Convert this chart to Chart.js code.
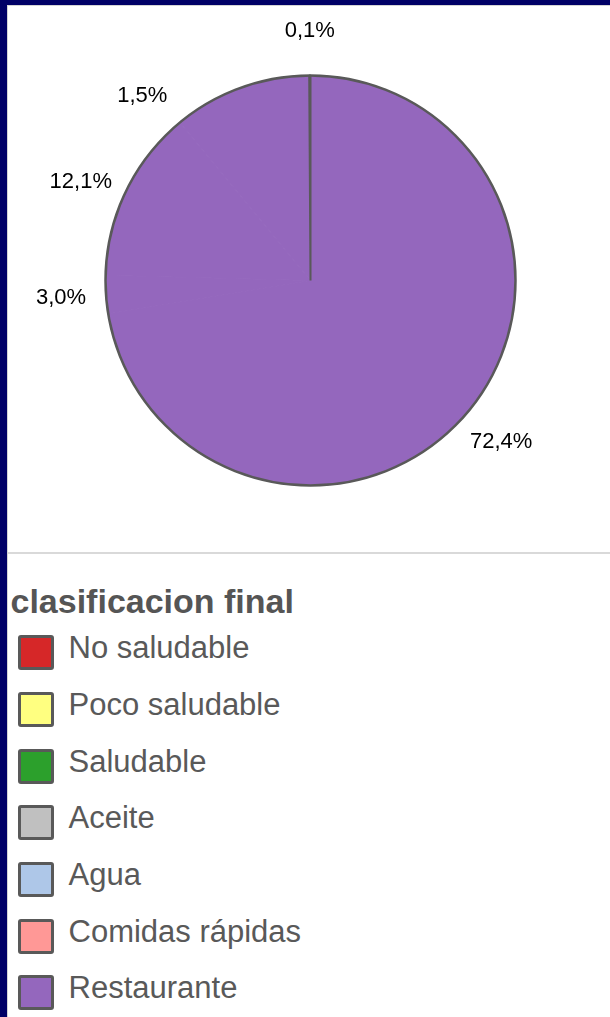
<!DOCTYPE html>
<html>
<head>
<meta charset="utf-8">
<script src="https://cdn.jsdelivr.net/npm/chart.js@4.4.1/dist/chart.umd.min.js"></script>
<style>
  html,body{margin:0;padding:0;}
  body{background:#000066;width:610px;height:1017px;overflow:hidden;position:relative;font-family:"Liberation Sans",Arial,sans-serif;}
  #panel{position:absolute;left:7px;top:5px;right:0;bottom:0;background:#fff;border-left:1px solid #d4d4d4;border-top:1px solid #d4d4d4;}
  #pie{position:absolute;left:0;top:0;}
  #sep{position:absolute;left:0;right:0;top:546px;height:2px;background:#d9d9d9;}
  #legTitle{position:absolute;left:2.5px;top:577.9px;font-weight:bold;font-size:34px;line-height:34px;color:#555;white-space:nowrap;}
  .item{position:absolute;left:0;height:40px;width:500px;}
  .box{position:absolute;left:9.7px;top:3px;width:36px;height:35px;box-sizing:border-box;border:3px solid #595959;border-radius:3px;}
  .txt{position:absolute;left:60.5px;top:0;font-size:31px;line-height:31px;color:#595959;white-space:nowrap;}
</style>
</head>
<body>
<div id="panel">
  <canvas id="pie" width="602" height="546"></canvas>
  <div id="sep"></div>
  <div id="legTitle">clasificacion final</div>
  <div id="legend"></div>
</div>
<script>
// clasificacion final, in legend order
const categorias = ['No saludable', 'Poco saludable', 'Saludable', 'Aceite', 'Agua', 'Comidas rápidas', 'Restaurante'];
const porcentajes = [0.1, 0, 10.9, 1.5, 12.1, 3.0, 72.4];
const coloresLeyenda = ['#d62728', '#ffff80', '#2ca02c', '#c0c0c0', '#aec7e8', '#ff9896', '#9467bd'];
const conEtiqueta = [true, true, false, true, true, true, true];

const colorTarta = '#9467bd';
const colorBorde = '#595959';

// the pie runs clockwise from the top starting with the last category
const pieLabels = categorias.slice().reverse();
const pieVals = porcentajes.slice().reverse();
const pieShow = conEtiqueta.slice().reverse();

const fmtPct = v => v.toFixed(1).replace('.', ',') + '%';

// outer ring of the pie
const outline = {
  id: 'outline',
  afterDatasetsDraw(chart){
    const arc = chart.getDatasetMeta(0).data[0];
    const g = chart.ctx;
    g.save();
    g.strokeStyle = colorBorde;
    g.lineWidth = 2.5;
    g.beginPath();
    g.arc(arc.x, arc.y, arc.outerRadius, 0, Math.PI * 2);
    g.stroke();
    g.restore();
  }
};

// percentage next to each slice
const pctLabels = {
  id: 'pctLabels',
  afterDraw(chart){
    const g = chart.ctx;
    g.save();
    g.font = '22px "Liberation Sans", Arial, sans-serif';
    g.fillStyle = '#000';
    g.textAlign = 'center';
    g.textBaseline = 'middle';
    chart.getDatasetMeta(0).data.forEach((arc, i) => {
      if (!pieShow[i] || !(pieVals[i] > 0)) return;
      const mid = (arc.startAngle + arc.endAngle) / 2;
      const r = arc.outerRadius + 45;
      g.fillText(fmtPct(pieVals[i]), arc.x + Math.cos(mid) * r, arc.y + Math.sin(mid) * r);
    });
    g.restore();
  }
};

new Chart(document.getElementById('pie').getContext('2d'), {
  type: 'pie',
  data: {
    labels: pieLabels,
    datasets: [{
      data: pieVals,
      backgroundColor: colorTarta,
      // slivers keep a grey outline, the rest blend into one disc
      borderColor: c => pieVals[c.dataIndex] < 1 ? colorBorde : colorTarta,
      borderWidth: c => pieVals[c.dataIndex] < 1 ? 2 : 1,
      radius: 205
    }]
  },
  options: {
    responsive: false,
    animation: false,
    layout: {padding: {left: 3, top: 3, right: 0, bottom: 0}},
    plugins: {legend: {display: false}, tooltip: {enabled: false}}
  },
  plugins: [outline, pctLabels]
});

// legend below the pie
const leg = document.getElementById('legend');
categorias.forEach((c, i) => {
  const it = document.createElement('div');
  it.className = 'item';
  it.style.top = (626.1 + i * 56.7) + 'px';
  it.innerHTML = `<div class="box" style="background:${coloresLeyenda[i]}"></div><div class="txt">${c}</div>`;
  leg.appendChild(it);
});
</script>
</body>
</html>
